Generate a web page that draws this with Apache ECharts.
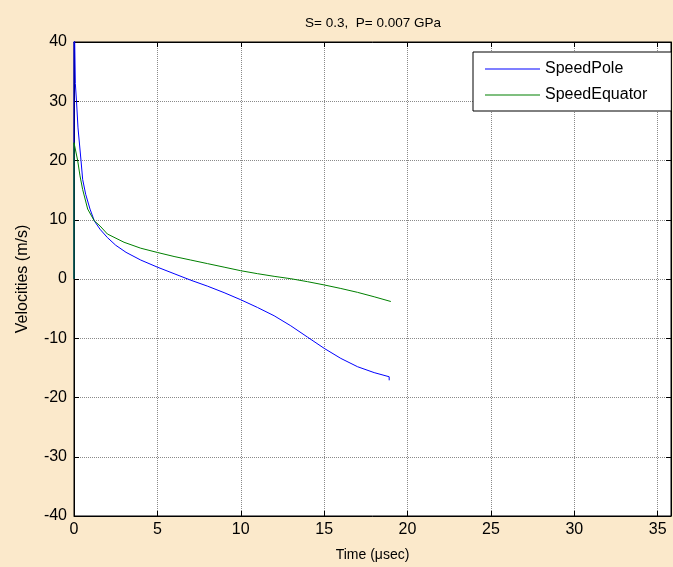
<!DOCTYPE html>
<html>
<head>
<meta charset="utf-8">
<script src="https://cdn.jsdelivr.net/npm/echarts@6/dist/echarts.min.js"></script>
<style>
html,body{margin:0;padding:0;background:#FBE9CB;}
#chart{width:673px;height:567px;}
</style>
</head>
<body>
<div id="chart"></div>
<script>
var titleText = 'S= 0.3,  P= 0.007 GPa';
var xName = 'Time (\u03bcsec)';
var yName = 'Velocities (m/s)';
var seriesNames = ['SpeedPole', 'SpeedEquator'];

var timePole = [0, 0, 0.08, 0.15, 0.24, 0.42, 0.52, 0.7, 0.96, 1.22, 1.56, 2, 2.5, 3.12, 4, 5, 6, 7, 8, 9, 10, 11, 12, 13, 14, 15, 16, 17, 18, 18.9, 18.9];
var speedPole = [0, 48, 33, 30, 25.5, 20, 16.8, 14.3, 11.8, 9.8, 8.4, 7.0, 5.7, 4.5, 3.2, 2.0, 0.9, -0.2, -1.2, -2.3, -3.5, -4.8, -6.2, -7.9, -9.8, -11.7, -13.4, -14.8, -15.8, -16.5, -17.1];

var timeEquator = [0, 0, 0.06, 0.22, 0.36, 0.52, 0.82, 1.22, 1.56, 2, 3, 4, 5, 6, 7, 8, 9, 10, 11, 12, 13, 14, 15, 16, 17, 18, 19];
var speedEquator = [0, 23, 23.2, 20, 17.4, 15.1, 11.8, 9.8, 8.96, 7.6, 6.2, 5.2, 4.48, 3.8, 3.2, 2.6, 2.0, 1.4, 0.9, 0.45, 0.05, -0.45, -1.0, -1.6, -2.25, -3.0, -3.8];

function pairs(xs, ys){ return xs.map(function(x,i){ return [x, ys[i]]; }); }

var font = 'Liberation Sans, Arial, sans-serif';
var chart = echarts.init(document.getElementById('chart'));
var tickStyle = {show:true, inside:true, length:5, lineStyle:{color:'#000', width:1}};
var lineAxis = {show: true, onZero: false, lineStyle: {color: '#000'}};
chart.setOption({
  backgroundColor: '#FBE9CB',
  animation: false,
  title: {
    text: titleText, left: 368, top: 11, textAlign: 'center',
    textStyle: {fontFamily: font, fontSize: 13.5, fontWeight: 'normal', color: '#000'}
  },
  legend: {
    orient: 'vertical', left: 473, top: 52,
    icon: 'rect', itemWidth: 55, itemHeight: 1, itemGap: 8,
    padding: [8, 24, 7, 12],
    backgroundColor: '#fff', borderColor: '#000', borderWidth: 1, borderRadius: 0,
    textStyle: {fontFamily: font, fontSize: 16, color: '#000', lineHeight: 18},
    data: seriesNames
  },
  grid: {left: 74, top: 42, right: 2, bottom: 49, show: true, backgroundColor: '#fff', borderColor: '#000', borderWidth: 1},
  xAxis: [{
    type: 'value', min: 0, max: 35.8, interval: 5, position: 'bottom',
    name: xName, nameLocation: 'middle', nameGap: 32,
    nameTextStyle: {fontFamily: font, fontSize: 14, color: '#000'},
    axisLine: lineAxis,
    axisTick: tickStyle,
    axisLabel: {fontFamily: font, fontSize: 16, color: '#000', margin: 6, showMaxLabel: false},
    splitLine: {show: true, lineStyle: {color: '#8a8a8a', type: [1, 1], width: 1}}
  }, {
    type: 'value', min: 0, max: 35.8, interval: 5, position: 'top',
    axisLine: lineAxis,
    axisTick: tickStyle, axisLabel: {show: false}, splitLine: {show: false}
  }],
  yAxis: [{
    type: 'value', min: -40, max: 40, interval: 10, position: 'left',
    name: yName, nameLocation: 'middle', nameGap: 43,
    nameTextStyle: {fontFamily: font, fontSize: 16, color: '#000'},
    axisLine: lineAxis,
    axisTick: tickStyle,
    axisLabel: {fontFamily: font, fontSize: 16, color: '#000', margin: 7},
    splitLine: {show: true, lineStyle: {color: '#8a8a8a', type: [1, 1], width: 1}}
  }, {
    type: 'value', min: -40, max: 40, interval: 10, position: 'right',
    axisLine: lineAxis,
    axisTick: tickStyle, axisLabel: {show: false}, splitLine: {show: false}
  }],
  series: [{
    name: seriesNames[0], type: 'line', symbol: 'none', clip: true,
    data: pairs(timePole, speedPole),
    lineStyle: {color: '#0000FF', width: 1}, itemStyle: {color: '#0000FF'}
  }, {
    name: seriesNames[1], type: 'line', symbol: 'none', clip: true,
    data: pairs(timeEquator, speedEquator),
    lineStyle: {color: '#008000', width: 1}, itemStyle: {color: '#008000'}
  }]
});
</script>
</body>
</html>
